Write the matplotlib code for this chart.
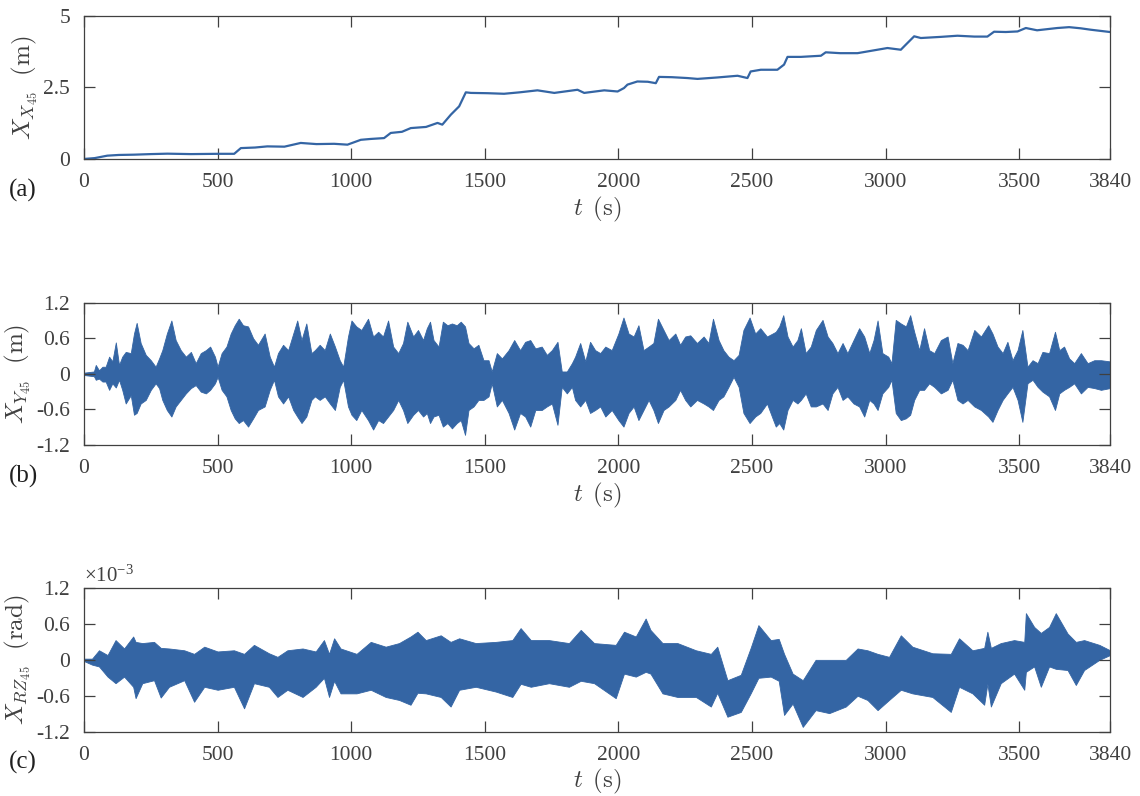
import numpy as np
import matplotlib.pyplot as plt

plt.rcParams['font.family'] = 'Liberation Serif'
plt.rcParams['mathtext.fontset'] = 'custom'
plt.rcParams['mathtext.rm'] = 'Liberation Serif'
plt.rcParams['mathtext.it'] = 'Liberation Serif:italic'
plt.rcParams['axes.unicode_minus'] = False

# (a) surge displacement
ta = [0, 40, 87, 130, 187, 250, 312, 400, 500, 562, 587, 640, 686, 750, 811, 870, 936,
      986, 1036, 1073, 1123, 1148, 1190, 1223, 1280, 1323, 1341, 1373, 1404, 1429, 1448,
      1510, 1572, 1630, 1697, 1760, 1847, 1872, 1947, 1997, 2021, 2034, 2071, 2110, 2140,
      2152, 2200, 2258, 2296, 2370, 2446, 2483, 2495, 2533, 2595, 2620, 2633, 2683, 2758,
      2776, 2830, 2895, 2957, 3007, 3057, 3076, 3107, 3132, 3207, 3269, 3332, 3381, 3406,
      3450, 3494, 3525, 3567, 3643, 3687, 3730, 3768, 3840]
xa = [0.0, 0.03, 0.115, 0.14, 0.15, 0.17, 0.185, 0.17, 0.18, 0.18, 0.38, 0.40, 0.44, 0.43,
      0.56, 0.52, 0.53, 0.50, 0.67, 0.70, 0.73, 0.91, 0.95, 1.08, 1.12, 1.26, 1.20, 1.55,
      1.84, 2.33, 2.31, 2.30, 2.28, 2.33, 2.40, 2.31, 2.42, 2.31, 2.40, 2.36, 2.48, 2.60,
      2.71, 2.70, 2.65, 2.87, 2.86, 2.83, 2.80, 2.85, 2.91, 2.83, 3.06, 3.12, 3.12, 3.30,
      3.57, 3.57, 3.61, 3.73, 3.70, 3.70, 3.80, 3.88, 3.82, 4.00, 4.29, 4.23, 4.27, 4.31,
      4.28, 4.28, 4.45, 4.44, 4.46, 4.58, 4.50, 4.58, 4.61, 4.57, 4.52, 4.44]

# (b) sway displacement envelope (upper / lower peaks)
tb = [0, 37, 44, 56, 69, 81, 94, 106, 119, 131, 143, 156, 175, 187, 197, 212, 231, 250,
      268, 281, 293, 310, 327, 343, 362, 381, 400, 418, 437, 456, 472, 490, 500, 515, 533,
      549, 564, 579, 595, 614, 633, 651, 676, 695, 711, 726, 745, 764, 783, 798, 814, 832,
      851, 864, 882, 901, 920, 939, 957, 970, 988, 1001, 1019, 1038, 1063, 1082, 1101,
      1119, 1138, 1157, 1176, 1194, 1210, 1232, 1250, 1269, 1283, 1295, 1308, 1327, 1343,
      1360, 1377, 1395, 1410, 1426, 1439, 1458, 1476, 1495, 1514, 1526, 1545, 1564, 1589,
      1610, 1632, 1651, 1670, 1689, 1713, 1732, 1751, 1772, 1788, 1807, 1826, 1838, 1857,
      1876, 1894, 1913, 1932, 1951, 1975, 2000, 2019, 2038, 2057, 2075, 2094, 2113, 2131,
      2148, 2169, 2188, 2213, 2231, 2250, 2269, 2294, 2319, 2337, 2354, 2375, 2393, 2412,
      2431, 2450, 2468, 2491, 2512, 2531, 2556, 2577, 2589, 2602, 2617, 2633, 2652, 2670,
      2683, 2701, 2720, 2739, 2764, 2783, 2801, 2820, 2839, 2857, 2880, 2901, 2920, 2939,
      2955, 2970, 2988, 3010, 3022, 3038, 3057, 3076, 3092, 3107, 3126, 3144, 3163, 3182,
      3207, 3232, 3250, 3269, 3288, 3307, 3332, 3357, 3384, 3400, 3419, 3438, 3456, 3475,
      3494, 3512, 3531, 3550, 3569, 3587, 3612, 3634, 3650, 3668, 3687, 3706, 3731, 3756,
      3781, 3806, 3840]
b_hi = [0.02, 0.04, 0.15, 0.06, 0.12, 0.12, 0.29, 0.21, 0.53, 0.15, 0.29, 0.37, 0.35,
        0.68, 0.86, 0.52, 0.32, 0.23, 0.12, 0.26, 0.40, 0.68, 0.90, 0.57, 0.40, 0.29, 0.37,
        0.18, 0.35, 0.40, 0.46, 0.29, 0.12, 0.35, 0.46, 0.68, 0.82, 0.93, 0.82, 0.80, 0.60,
        0.49, 0.68, 0.29, 0.12, 0.35, 0.49, 0.40, 0.68, 0.90, 0.57, 0.85, 0.35, 0.40, 0.49,
        0.40, 0.68, 0.46, 0.23, 0.12, 0.63, 0.90, 0.80, 0.74, 0.93, 0.63, 0.71, 0.63, 0.90,
        0.46, 0.35, 0.52, 0.88, 0.63, 0.74, 0.57, 0.77, 0.88, 0.57, 0.46, 0.88, 0.82, 0.85,
        0.82, 0.88, 0.80, 0.52, 0.43, 0.49, 0.23, 0.23, 0.04, 0.35, 0.26, 0.40, 0.57, 0.40,
        0.54, 0.57, 0.43, 0.46, 0.32, 0.40, 0.54, 0.04, 0.04, 0.18, 0.29, 0.52, 0.21, 0.54,
        0.40, 0.35, 0.46, 0.40, 0.68, 0.95, 0.68, 0.63, 0.82, 0.40, 0.46, 0.52, 0.93, 0.74,
        0.57, 0.68, 0.49, 0.63, 0.65, 0.52, 0.63, 0.52, 0.93, 0.57, 0.40, 0.29, 0.23, 0.32,
        0.74, 0.95, 0.68, 0.77, 0.63, 0.68, 0.71, 0.80, 0.99, 0.63, 0.46, 0.57, 0.77, 0.35,
        0.46, 0.74, 0.91, 0.63, 0.52, 0.35, 0.52, 0.35, 0.57, 0.77, 0.63, 0.35, 0.57, 0.90,
        0.35, 0.29, 0.18, 0.91, 0.85, 0.80, 0.99, 0.71, 0.40, 0.77, 0.40, 0.35, 0.57, 0.63,
        0.18, 0.52, 0.49, 0.40, 0.74, 0.63, 0.82, 0.68, 0.46, 0.35, 0.54, 0.23, 0.40, 0.74,
        0.12, 0.23, 0.18, 0.37, 0.35, 0.71, 0.40, 0.46, 0.26, 0.18, 0.35, 0.18, 0.23, 0.23,
        0.21]
b_lo = [-0.02, -0.04, -0.10, -0.08, -0.13, -0.13, -0.27, -0.16, -0.23, -0.10, -0.27, -0.50,
        -0.36, -0.69, -0.66, -0.50, -0.44, -0.27, -0.16, -0.24, -0.44, -0.61, -0.72, -0.55,
        -0.44, -0.33, -0.24, -0.19, -0.30, -0.33, -0.27, -0.16, -0.05, -0.27, -0.38, -0.61,
        -0.75, -0.83, -0.78, -0.89, -0.75, -0.61, -0.55, -0.27, -0.10, -0.38, -0.50, -0.38,
        -0.61, -0.72, -0.83, -0.72, -0.44, -0.38, -0.44, -0.38, -0.50, -0.61, -0.22, -0.10,
        -0.55, -0.69, -0.78, -0.61, -0.78, -0.94, -0.78, -0.83, -0.72, -0.61, -0.44, -0.61,
        -0.83, -0.69, -0.61, -0.72, -0.66, -0.83, -0.72, -0.69, -0.89, -0.83, -0.92, -0.83,
        -0.78, -1.03, -0.61, -0.55, -0.44, -0.44, -0.38, -0.16, -0.55, -0.44, -0.66, -0.94,
        -0.66, -0.72, -0.89, -0.61, -0.61, -0.55, -0.50, -0.86, -0.22, -0.33, -0.22, -0.44,
        -0.55, -0.44, -0.66, -0.61, -0.55, -0.72, -0.61, -0.78, -0.89, -0.66, -0.55, -0.78,
        -0.61, -0.44, -0.61, -0.83, -0.61, -0.55, -0.44, -0.27, -0.44, -0.55, -0.44, -0.50,
        -0.55, -0.61, -0.44, -0.38, -0.22, -0.05, -0.22, -0.66, -0.83, -0.72, -0.66, -0.50,
        -0.75, -0.89, -0.83, -0.94, -0.61, -0.44, -0.50, -0.44, -0.33, -0.55, -0.55, -0.50,
        -0.61, -0.33, -0.22, -0.44, -0.38, -0.50, -0.55, -0.72, -0.44, -0.50, -0.61, -0.33,
        -0.22, -0.10, -0.66, -0.78, -0.75, -0.69, -0.44, -0.27, -0.27, -0.16, -0.22, -0.33,
        -0.27, -0.10, -0.44, -0.50, -0.44, -0.55, -0.61, -0.72, -0.81, -0.61, -0.44, -0.33,
        -0.22, -0.44, -0.81, -0.16, -0.10, -0.22, -0.30, -0.38, -0.61, -0.33, -0.27, -0.22,
        -0.16, -0.33, -0.22, -0.24, -0.27, -0.24]

# (c) yaw rotation envelope, x 1e-3 rad
tc = [0, 30, 56, 88, 118, 150, 184, 193, 218, 262, 287, 318, 375, 412, 450, 500, 561, 599,
      636, 692, 724, 761, 818, 867, 898, 917, 936, 960, 1020, 1073, 1129, 1179, 1222, 1248,
      1279, 1335, 1372, 1404, 1466, 1541, 1603, 1634, 1672, 1740, 1815, 1859, 1909, 1990,
      2021, 2065, 2102, 2120, 2165, 2221, 2290, 2346, 2370, 2408, 2458, 2495, 2524, 2570,
      2600, 2620, 2652, 2690, 2738, 2789, 2851, 2895, 2932, 2970, 3013, 3057, 3100, 3175,
      3244, 3275, 3325, 3369, 3381, 3394, 3431, 3481, 3519, 3525, 3556, 3581, 3612, 3637,
      3681, 3712, 3743, 3800, 3840]
c_hi = [0.02, 0.02, 0.16, 0.08, 0.33, 0.19, 0.39, 0.30, 0.28, 0.30, 0.20, 0.19, 0.16, 0.10,
        0.22, 0.14, 0.16, 0.10, 0.25, 0.11, 0.05, 0.16, 0.19, 0.14, 0.33, 0.10, 0.36, 0.19,
        0.10, 0.30, 0.22, 0.28, 0.39, 0.47, 0.33, 0.41, 0.30, 0.36, 0.28, 0.30, 0.33, 0.53,
        0.33, 0.33, 0.28, 0.50, 0.28, 0.25, 0.47, 0.39, 0.69, 0.50, 0.28, 0.28, 0.16, 0.10,
        0.22, -0.34, -0.25, 0.20, 0.58, 0.33, 0.35, 0.10, -0.23, -0.34, 0.00, 0.00, 0.00,
        0.19, 0.16, 0.10, 0.05, 0.41, 0.22, 0.11, 0.10, 0.36, 0.16, 0.20, 0.47, 0.20, 0.28,
        0.33, 0.30, 0.78, 0.55, 0.45, 0.55, 0.78, 0.44, 0.30, 0.33, 0.25, 0.16]
c_lo = [-0.02, -0.08, -0.11, -0.28, -0.39, -0.28, -0.45, -0.64, -0.39, -0.34, -0.63, -0.45,
        -0.34, -0.70, -0.45, -0.50, -0.45, -0.81, -0.39, -0.45, -0.62, -0.50, -0.62, -0.45,
        -0.30, -0.62, -0.35, -0.56, -0.56, -0.50, -0.62, -0.67, -0.75, -0.55, -0.56, -0.62,
        -0.78, -0.50, -0.45, -0.53, -0.62, -0.40, -0.45, -0.39, -0.45, -0.35, -0.39, -0.64,
        -0.23, -0.28, -0.20, -0.23, -0.56, -0.62, -0.62, -0.78, -0.55, -0.95, -0.87, -0.56,
        -0.30, -0.28, -0.35, -0.92, -0.73, -1.12, -0.84, -0.89, -0.78, -0.60, -0.67, -0.84,
        -0.67, -0.50, -0.56, -0.62, -0.87, -0.45, -0.56, -0.75, -0.40, -0.78, -0.39, -0.23,
        -0.50, -0.20, -0.11, -0.45, -0.11, -0.15, -0.17, -0.42, -0.17, 0.00, 0.08]

xticks = [0, 500, 1000, 1500, 2000, 2500, 3000, 3500, 3840]
col = '#3465a4'
edge = '#404040'

fig = plt.figure(figsize=(11.4, 7.96), dpi=100)
ax1 = fig.add_axes([0.0737, 0.8003, 0.9, 0.1796])
ax2 = fig.add_axes([0.0737, 0.4410, 0.9, 0.1787])
ax3 = fig.add_axes([0.0737, 0.0808, 0.9, 0.1805])

ax1.plot(ta, xa, color=col, lw=1.6)
ax2.fill_between(tb, b_lo, b_hi, color=col, lw=0.6, edgecolor=col)
ax3.fill_between(tc, c_lo, c_hi, color=col, lw=0.6, edgecolor=col)

ax1.set_ylim(0, 5)
ax1.set_yticks([0, 2.5, 5])
ax1.set_yticklabels(['0', '2.5', '5'])
for ax in (ax2, ax3):
    ax.set_ylim(-1.2, 1.2)
    ax.set_yticks([-1.2, -0.6, 0, 0.6, 1.2])
    ax.set_yticklabels(['-1.2', '-0.6', '0', '0.6', '1.2'])

labels = [r'$X_{X_{45}}\ \ (\mathrm{m})$', r'$X_{Y_{45}}\ \ (\mathrm{m})$',
          r'$X_{RZ_{45}}\ \ (\mathrm{rad})$']
tags = ['(a)', '(b)', '(c)']
for ax, lab, tag in zip((ax1, ax2, ax3), labels, tags):
    ax.set_xlim(0, 3840)
    ax.set_xticks(xticks)
    ax.tick_params(direction='in', length=8, width=0.9, top=True, right=True,
                   labelsize=15.5, pad=10, colors='#404040')
    for s in ax.spines.values():
        s.set_color(edge)
        s.set_linewidth(0.9)
    ax.set_xlabel(r'$t\ \,(\mathrm{s})$', fontsize=18, labelpad=2, color='#404040',
                  math_fontfamily='cm')
    ax.set_ylabel(lab, fontsize=18, labelpad=3, color='#404040', math_fontfamily='cm')
    pos = ax.get_position()
    fig.text(0.008, pos.y0 - 0.039, tag, fontsize=18, color='#202020', va='center')

ax3.text(0.0, 1.005, r'$\times 10^{-3}$', transform=ax3.transAxes, fontsize=15,
         color='#404040', va='bottom', ha='left')

fig.savefig('out.png', dpi=100)
